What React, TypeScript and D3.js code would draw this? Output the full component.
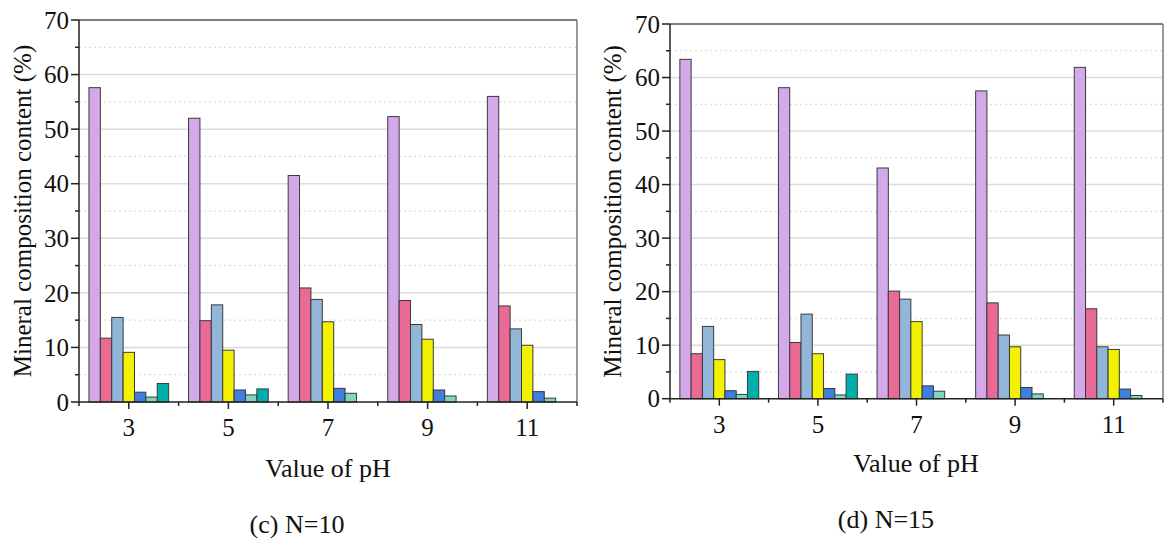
import React from "react";
import * as d3 from "d3";

const categories = ["3", "5", "7", "9", "11"];
const seriesNames = ["s1", "s2", "s3", "s4", "s5", "s6", "s7"];
const colors = ["#D4A9EA", "#EA6A96", "#92B6DA", "#F2F200", "#3F7FDD", "#80D4C2", "#00AFAA"];

// N=10 values per series (rows = series, cols = pH)
const n10 = [
  [57.6, 52.0, 41.5, 52.3, 56.0],
  [11.7, 14.9, 20.9, 18.6, 17.6],
  [15.5, 17.8, 18.8, 14.2, 13.4],
  [9.1, 9.5, 14.7, 11.5, 10.4],
  [1.8, 2.2, 2.5, 2.2, 1.9],
  [0.9, 1.3, 1.6, 1.1, 0.7],
  [3.4, 2.4, 0, 0, 0],
];
// N=15
const n15 = [
  [63.4, 58.1, 43.1, 57.5, 61.9],
  [8.4, 10.5, 20.1, 17.9, 16.8],
  [13.5, 15.8, 18.6, 11.9, 9.7],
  [7.3, 8.4, 14.4, 9.7, 9.2],
  [1.5, 1.9, 2.4, 2.1, 1.8],
  [0.8, 0.7, 1.4, 0.9, 0.6],
  [5.1, 4.6, 0, 0, 0],
];

const yMajor = [0, 10, 20, 30, 40, 50, 60, 70];
const yMinor = [5, 15, 25, 35, 45, 55, 65];

const FONT = "'Liberation Serif', 'Times New Roman', serif";

type PanelProps = {
  data: number[][];
  x0: number;
  x1: number;
  yBottom: number;
  yTop: number;
  yTitleX: number;
  xTitleX: number;
  xTitleY: number;
  capX: number;
  capY: number;
  caption: string;
};

function Panel(p: PanelProps) {
  const xs = d3.scaleBand<string>().domain(categories).range([p.x0, p.x1]).paddingInner(0.2).paddingOuter(0.1);
  const step = xs.step();
  const xi = d3.scaleBand<string>().domain(seriesNames).range([0, xs.bandwidth()]).padding(0);
  const y = d3.scaleLinear().domain([0, 70]).range([p.yBottom, p.yTop]);
  const boundaries = d3.range(categories.length + 1).map((i) => p.x0 + i * step);
  const axisColor = "#222";
  return (
    <g>
      {/* grid */}
      {yMinor.map((v) => (
        <line key={"gm" + v} x1={p.x0} x2={p.x1} y1={y(v)} y2={y(v)} stroke="#d6d6d6" strokeWidth={1} strokeDasharray="2,3" />
      ))}
      {yMajor.filter((v) => v > 0 && v < 70).map((v) => (
        <line key={"g" + v} x1={p.x0} x2={p.x1} y1={y(v)} y2={y(v)} stroke="#dcdcdc" strokeWidth={1.5} />
      ))}
      {/* frame */}
      <line x1={p.x0} x2={p.x1} y1={y(70)} y2={y(70)} stroke="#555" strokeWidth={1.5} />
      <line x1={p.x1} x2={p.x1} y1={y(70)} y2={y(0)} stroke="#777" strokeWidth={1.5} />
      {/* bars */}
      {p.data.map((row, si) =>
        row.map((v, ci) =>
          v > 0 ? (
            <rect
              key={si + "-" + ci}
              x={(xs(categories[ci]) as number) + (xi(seriesNames[si]) as number)}
              y={y(v)}
              width={xi.bandwidth()}
              height={y(0) - y(v)}
              fill={colors[si]}
              stroke="#3a3a3a"
              strokeWidth={1}
            />
          ) : null
        )
      )}
      {/* axes */}
      <line x1={p.x0} x2={p.x0} y1={y(70)} y2={y(0)} stroke={axisColor} strokeWidth={1.5} />
      <line x1={p.x0} x2={p.x1} y1={y(0)} y2={y(0)} stroke={axisColor} strokeWidth={1.5} />
      {yMajor.map((v) => (
        <g key={"yt" + v}>
          <line x1={p.x0 - 8} x2={p.x0} y1={y(v)} y2={y(v)} stroke={axisColor} strokeWidth={1.5} />
          <text x={p.x0 - 10} y={y(v)} dy="0.35em" textAnchor="end" fontFamily={FONT} fontSize={25} fill="#111">
            {v}
          </text>
        </g>
      ))}
      {yMinor.map((v) => (
        <line key={"ymt" + v} x1={p.x0 - 4} x2={p.x0} y1={y(v)} y2={y(v)} stroke={axisColor} strokeWidth={1.5} />
      ))}
      {boundaries.map((b, i) => (
        <line key={"xb" + i} x1={b} x2={b} y1={y(0)} y2={y(0) + 4} stroke={axisColor} strokeWidth={1.5} />
      ))}
      {categories.map((c) => {
        const cx = (xs(c) as number) + xs.bandwidth() / 2;
        return (
          <g key={"xt" + c}>
            <line x1={cx} x2={cx} y1={y(0)} y2={y(0) + 7} stroke={axisColor} strokeWidth={1.5} />
            <text x={cx} y={y(0) + 34} textAnchor="middle" fontFamily={FONT} fontSize={25} fill="#111">
              {c}
            </text>
          </g>
        );
      })}
      <text
        transform={`translate(${p.yTitleX},${(p.yTop + p.yBottom) / 2 + 0}) rotate(-90)`}
        textAnchor="middle"
        fontFamily={FONT}
        fontSize={25}
        fill="#111"
      >
        Mineral composition content (%)
      </text>
      <text x={p.xTitleX} y={p.xTitleY} textAnchor="middle" fontFamily={FONT} fontSize={26} fill="#111">
        Value of pH
      </text>
      <text x={p.capX} y={p.capY} textAnchor="middle" fontFamily={FONT} fontSize={26} fill="#111">
        {p.caption}
      </text>
    </g>
  );
}

export default function App() {
  return (
    <svg
      width={1173}
      height={546}
      viewBox="0 0 1173 546"
      style={{ position: "absolute", left: 0, top: 0, background: "#fff" }}
    >
      <rect x={0} y={0} width={1173} height={546} fill="#fff" />
      <Panel
        data={n10}
        x0={79}
        x1={577}
        yBottom={402}
        yTop={20}
        yTitleX={31}
        xTitleX={328}
        xTitleY={477}
        capX={297}
        capY={533}
        caption="(c) N=10"
      />
      <Panel
        data={n15}
        x0={670}
        x1={1163}
        yBottom={398.7}
        yTop={24}
        yTitleX={621}
        xTitleX={916}
        xTitleY={472}
        capX={886}
        capY={528}
        caption="(d) N=15"
      />
    </svg>
  );
}
